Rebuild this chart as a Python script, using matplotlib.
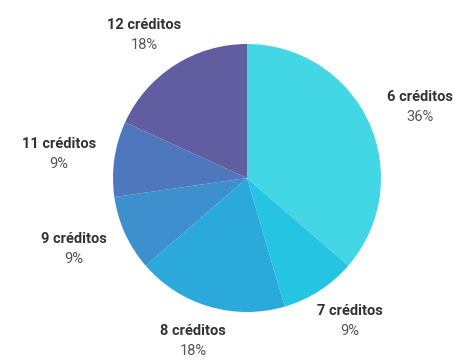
import numpy as np
import matplotlib.pyplot as plt

plt.rcParams['font.family'] = ['Roboto', 'DejaVu Sans']

labels = ["6 créditos", "7 créditos", "8 créditos", "9 créditos", "11 créditos", "12 créditos"]
counts = [4, 1, 2, 1, 1, 2]
colors = ["#43d7e5", "#25c4e2", "#2aa9da", "#3d8fce", "#4e77be", "#605da0"]

fig = plt.figure(figsize=(4.54, 3.62), dpi=100)
ax = fig.add_axes([0, 0, 1, 1])

wedges, _ = ax.pie(counts, colors=colors, startangle=90, counterclock=False,
                   radius=1, center=(0, 0), wedgeprops=dict(linewidth=0),
                   frame=True)
# 134 px per data unit, pie centre at (247, 178) px from top-left
ax.set_xlim(-247 / 134, (454 - 247) / 134)
ax.set_ylim(-(362 - 178) / 134, 178 / 134)
ax.set_aspect('equal')
ax.axis('off')

total = sum(counts)
half_w, half_h = 0.27, 0.14
for w, lab, c in zip(wedges, labels, counts):
    mid = np.deg2rad((w.theta1 + w.theta2) / 2)
    cx = (1.15 + half_w) * np.cos(mid)
    cy = (1.13 + half_h) * np.sin(mid)
    pct = "{:.0f}%".format(100 * c / total)
    ax.text(cx, cy + 0.076, lab, ha='center', va='center', fontsize=10.5,
            fontweight='bold', color='#333333')
    ax.text(cx, cy - 0.076, pct, ha='center', va='center', fontsize=10.5,
            color='#555555')

fig.savefig("out.png", dpi=100)
